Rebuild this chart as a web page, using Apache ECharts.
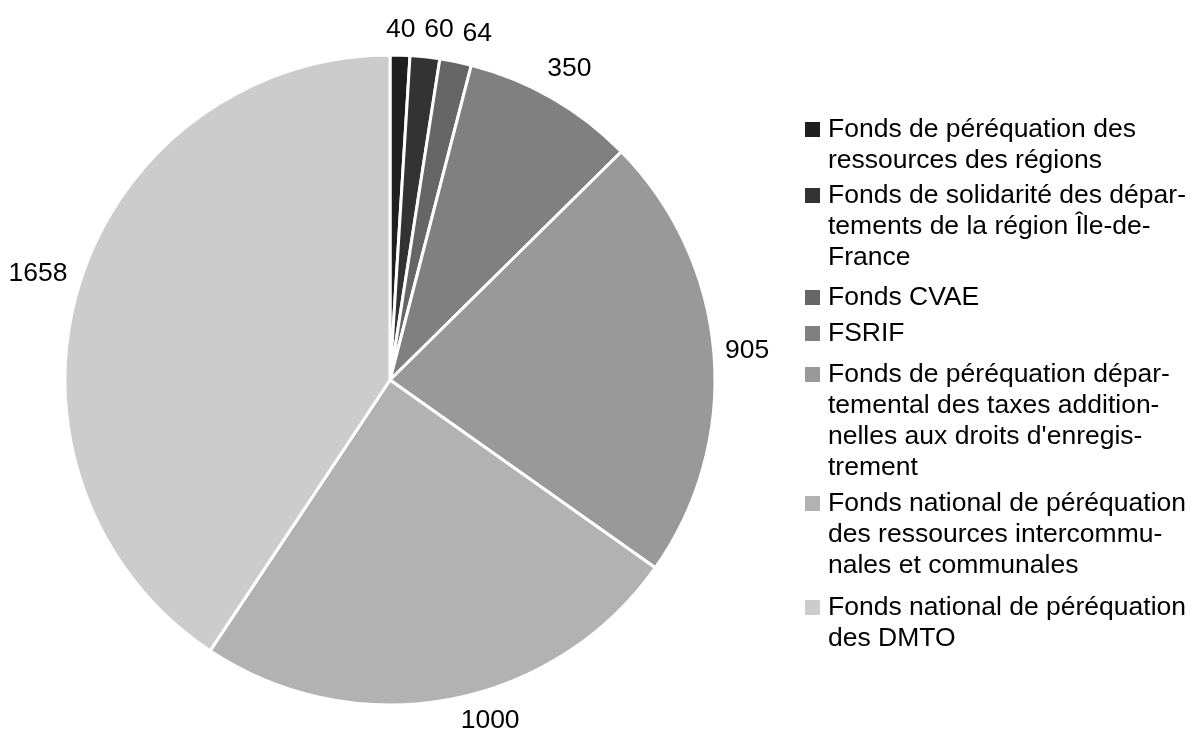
<!DOCTYPE html>
<html>
<head>
<meta charset="utf-8">
<script src="https://cdn.jsdelivr.net/npm/echarts@6/dist/echarts.min.js"></script>
<style>
html,body{margin:0;padding:0;background:#ffffff;}
#chart{width:1199px;height:740px;}
</style>
</head>
<body>
<div id="chart"></div>
<script>
// ---- data ----
const categories = [
  "Fonds de péréquation des\nressources des régions",
  "Fonds de solidarité des dépar-\ntements de la région Île-de-\nFrance",
  "Fonds CVAE",
  "FSRIF",
  "Fonds de péréquation dépar-\ntemental des taxes addition-\nnelles aux droits d'enregis-\ntrement",
  "Fonds national de péréquation\ndes ressources intercommu-\nnales et communales",
  "Fonds national de péréquation\ndes DMTO"
];
const values = [40, 60, 64, 350, 905, 1000, 1658];
const colors = ["#1f1f1f", "#333333", "#666666", "#808080", "#999999", "#b2b2b2", "#cccccc"];

// ---- layout (not data) ----
const legendFirstLineCenters = [127, 193, 295, 331, 372, 501, 605];
const FONT = '"Liberation Sans", Arial, Helvetica, sans-serif';
const W = 1199, H = 740;
const CX = 390, CY = 380, R = 325;
const FS = 26.5, LH = 31, SQ = 15;

// Excel-like "outside end" label placement derived from the slice angles
function computeLabelPositions() {
  const ctx = document.createElement('canvas').getContext('2d');
  ctx.font = FS + 'px "Liberation Sans", Arial, sans-serif';
  const total = values.reduce((a, b) => a + b, 0);
  let acc = 0;
  const placed = [];
  const m = 10, hh = LH / 2;
  values.forEach((v, i) => {
    const mid = (acc + v / 2) / total * 2 * Math.PI;
    acc += v;
    const dx = Math.sin(mid), dy = -Math.cos(mid);
    const hw = ctx.measureText(String(v)).width / 2;
    const d = R + m + Math.abs(dx) * hw + Math.abs(dy) * hh;
    let x = CX + d * dx, y = CY + d * dy;
    const step = dx >= 0 ? 1 : -1;
    const clear = (px, py) => {
      const nx = Math.max(px - hw, Math.min(CX, px + hw));
      const ny = Math.max(py - hh, Math.min(CY, py + hh));
      return Math.hypot(nx - CX, ny - CY) >= R + 8;
    };
    const maxY = H - 19, minY = 19;
    if (y > maxY || y < minY) {
      y = Math.min(maxY, Math.max(minY, y));
      let guard = 0;
      while (!clear(x, y) && guard++ < 400) x += step;
    }
    let guard = 0;
    const overlaps = () => placed.some(p => Math.abs(x - p.x) < hw + p.hw + 8 && Math.abs(y - p.y) < 20);
    while (overlaps() && guard++ < 400) x += step;
    placed.push({x, y, hw});
  });
  return placed;
}
const labelPos = computeLabelPositions();

const chart = echarts.init(document.getElementById('chart'), null, {renderer: 'canvas'});

// legend icon: a square at the top of a taller (invisible) box, so the
// square lines up with the first line of a multi-line legend text
const legends = categories.map((name, i) => {
  const n = name.split('\n').length;
  const ih = SQ + (n - 1) * LH;
  const icon = 'path://M0 0L' + SQ + ' 0L' + SQ + ' ' + SQ + 'L0 ' + SQ + 'Z' +
    (n > 1 ? 'M0 ' + ih + 'L0.01 ' + ih + 'L0 ' + ih + 'Z' : '');
  return {
    show: true,
    orient: 'vertical',
    left: 805,
    top: legendFirstLineCenters[i] - 13,
    padding: 0,
    itemWidth: SQ,
    itemHeight: ih,
    itemGap: 0,
    icon: icon,
    symbolKeepAspect: true,
    selectedMode: false,
    itemStyle: {borderWidth: 0},
    textStyle: {fontSize: FS, lineHeight: LH, color: '#000000', fontFamily: FONT, padding: [0, 0, 0, 3]},
    data: [name]
  };
});

const option = {
  animation: false,
  backgroundColor: '#ffffff',
  color: colors,
  legend: legends,
  series: [{
    type: 'pie',
    center: [CX, CY],
    radius: R,
    startAngle: 90,
    clockwise: true,
    avoidLabelOverlap: false,
    silent: true,
    emphasis: {disabled: true},
    itemStyle: {borderColor: '#ffffff', borderWidth: 3},
    label: {
      show: true,
      position: 'outside',
      formatter: '{c}',
      fontSize: FS,
      color: '#000000',
      fontFamily: FONT,
      overflow: 'none'
    },
    labelLine: {show: false, length: 0, length2: 0},
    labelLayout: function (p) {
      const q = labelPos[p.dataIndex];
      return {x: q.x, y: q.y, align: 'center', verticalAlign: 'middle'};
    },
    data: categories.map((c, i) => ({name: c, value: values[i]}))
  }]
};
chart.setOption(option);
</script>
</body>
</html>
